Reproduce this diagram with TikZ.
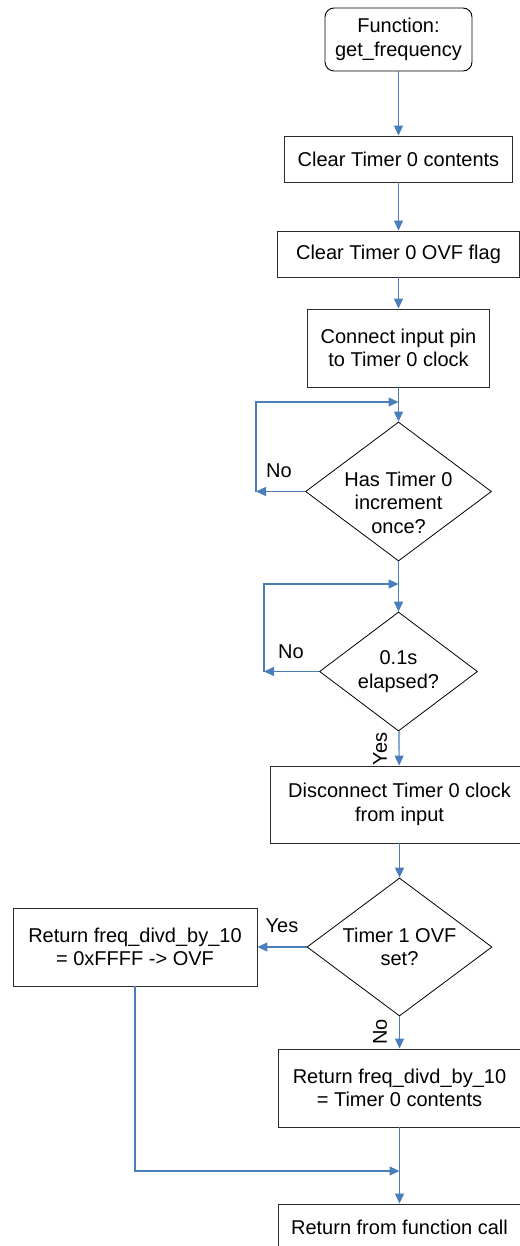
\documentclass[tikz,border=0pt]{standalone}
\usepackage{fontspec}
\setmainfont{Liberation Sans}
\usetikzlibrary{arrows.meta,shapes.geometric}
\definecolor{flowblue}{HTML}{4A7EBB}
\definecolor{edgegrey}{HTML}{2B2B2B}
\tikzset{
  every node/.style={font=\fontsize{20}{23.5}\selectfont, align=center, inner sep=0pt},
  stepbox/.style={draw=edgegrey, line width=0.9pt, rectangle},
  startbox/.style={draw=black, line width=0.9pt, rectangle, rounded corners=9pt},
  decision/.style={draw=black, line width=0.8pt, diamond, aspect=1.34},
  flow/.style={draw=flowblue, line width=1.2pt, -{Triangle[length=10pt,width=9pt]}},
  plain/.style={draw=flowblue, line width=1.2pt},
  lbl/.style={fill=white, inner sep=1pt},
}
\begin{document}
\begin{tikzpicture}[x=1pt,y=-1pt]
\useasboundingbox (0,0) rectangle (519,1246);

% main column
\node[startbox, minimum width=147pt, minimum height=63pt] (start) at (398.5,39.5) {Function:\\get\_frequency};
\node[stepbox, minimum width=228pt, minimum height=46pt] (clr) at (398.5,159) {Clear Timer 0 contents};
\node[stepbox, minimum width=242pt, minimum height=46pt] (ovf) at (398.5,254) {Clear Timer 0 OVF flag};
\node[stepbox, minimum width=182pt, minimum height=78pt] (conn) at (398.5,348) {Connect input pin\\to Timer 0 clock};
\node[decision, minimum width=186pt, minimum height=139pt,
      label={[yshift=-11pt]center:{Has Timer 0\\increment\\once?}}] (inc) at (398.5,491.5) {};
\node[decision, minimum width=158pt, minimum height=119pt] (dly) at (398.5,671.5) {0.1s\\elapsed?};
\node[stepbox, minimum width=258pt, minimum height=77pt] (disc) at (399.5,804.5) {Disconnect Timer 0 clock\\from input};
\node[decision, minimum width=185pt, minimum height=138pt] (t1) at (399.5,947) {Timer 1 OVF\\set?};
\node[stepbox, minimum width=244pt, minimum height=78pt] (rovf) at (135,947) {Return freq\_divd\_by\_10\\= 0xFFFF -> OVF};
\node[stepbox, minimum width=242pt, minimum height=78pt] (rcnt) at (399.5,1088) {Return freq\_divd\_by\_10\\= Timer 0 contents};
\node[stepbox, minimum width=242pt, minimum height=46pt] (ret) at (399.5,1227) {Return from function call};

% straight connectors
\draw[flow] (start) -- (clr);
\draw[flow] (clr) -- (ovf);
\draw[flow] (ovf) -- (conn);
\draw[flow] (conn) -- (inc);
\draw[flow] (inc) -- (dly);
\draw[flow] (dly) -- (disc);
\draw[flow] (disc) -- (t1);
\draw[flow] (t1) -- (rovf);
\draw[flow] (t1) -- (rcnt);
\draw[flow] (rcnt) -- (ret);

% wait loops
\coordinate (loopA) at (256,402);
\draw[flow] (inc.west) -- (inc.west -| loopA);
\draw[flow] (inc.west -| loopA) -- (loopA) -- (loopA -| inc.north);
\coordinate (loopB) at (264,584);
\draw[flow] (dly.west) -- (dly.west -| loopB);
\draw[flow] (dly.west -| loopB) -- (loopB) -- (loopB -| dly.north);

% merge into the return
\coordinate (merge) at (399.5,1171);
\draw[flow] (rovf.south) |- (merge);

% branch labels
\node (noA) at (279,471) {No};
\node (noB) at (291,652) {No};
\node[lbl, rotate=90] (yesB) at (380,749) {Yes};
\node (yesC) at (282,926) {Yes};
\node[lbl, rotate=90] (noC) at (380,1032) {No};
\end{tikzpicture}
\end{document}
